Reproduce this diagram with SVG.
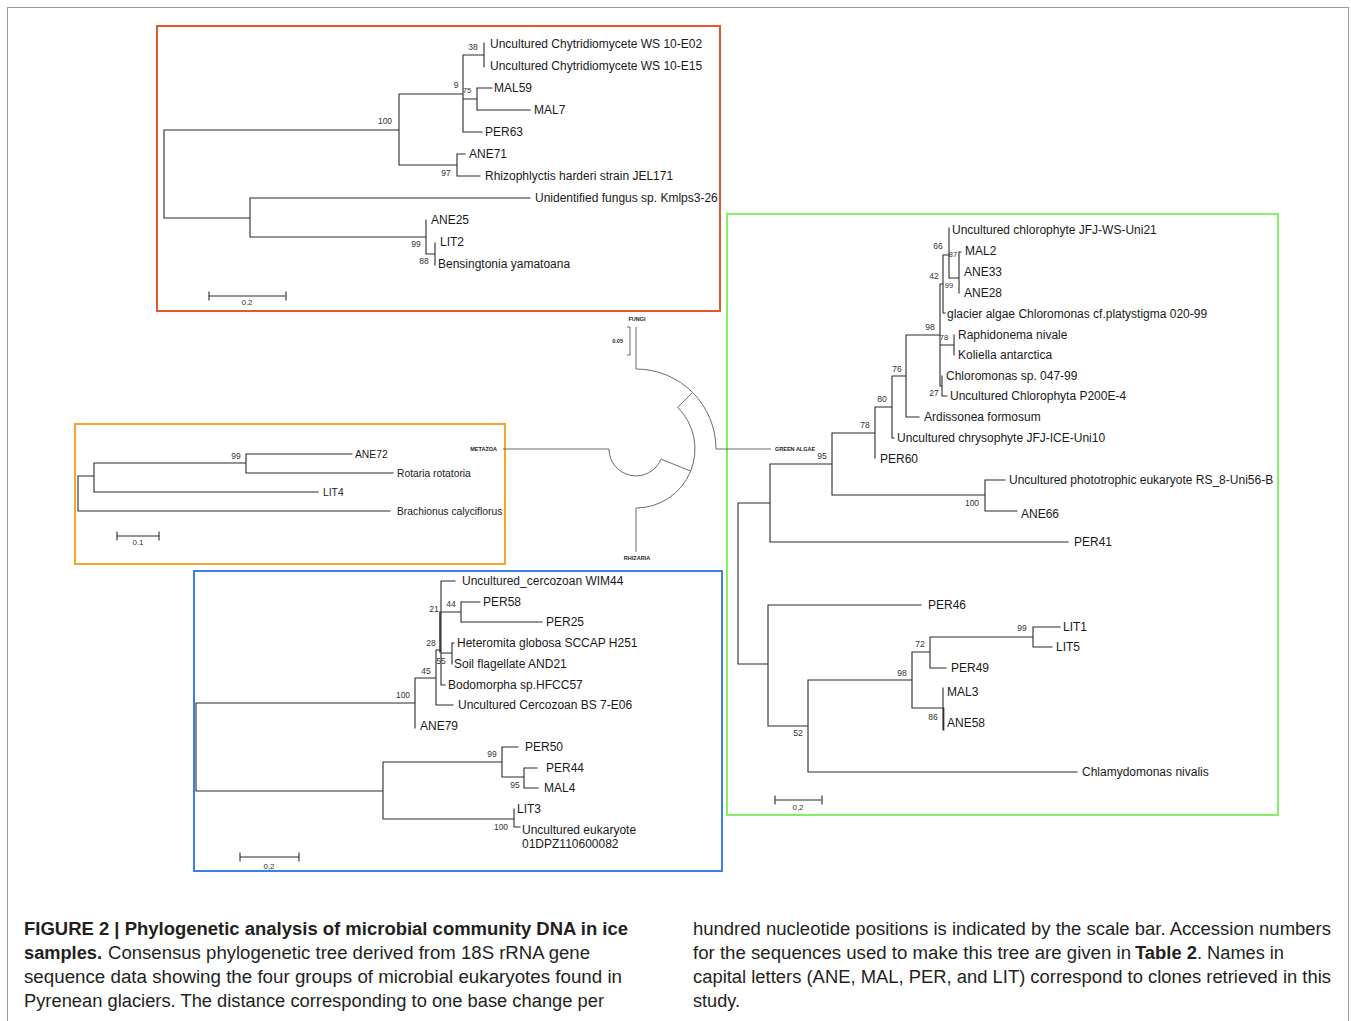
<svg xmlns="http://www.w3.org/2000/svg" width="1351" height="1021" viewBox="0 0 1351 1021">
<defs>
<style>
.bg{fill:#ffffff}
.frame{fill:none;stroke:#9a9a9a;stroke-width:1}
.box{fill:none;stroke-width:2}
.t{fill:none;stroke:#2b2b2b;stroke-width:1.1;stroke-linecap:square}
.r{fill:none;stroke:#5a5a5a;stroke-width:0.9}
.lab{font-family:"Liberation Sans",Arial,sans-serif;font-size:12px;fill:#1a1a1a}
.lab10{font-family:"Liberation Sans",Arial,sans-serif;font-size:10.3px;fill:#1a1a1a}
.bs{font-family:"Liberation Sans",Arial,sans-serif;font-size:8.5px;fill:#333;text-anchor:middle}
.sc{font-family:"Liberation Sans",Arial,sans-serif;font-size:8px;fill:#333;text-anchor:middle}
.grp{font-family:"Liberation Sans",Arial,sans-serif;font-size:5.5px;font-weight:bold;fill:#222}
.cap{font-family:"Liberation Sans",Arial,sans-serif;font-size:18px;fill:#231f20}
.capb{font-family:"Liberation Sans",Arial,sans-serif;font-size:18px;font-weight:bold;fill:#231f20}
</style>
</defs>
<rect class="bg" x="0" y="0" width="1351" height="1021"/>
<rect class="frame" x="7.5" y="7.5" width="1341" height="1030"/>

<!-- FUNGI panel -->
<g id="fungi">
<rect class="box" x="157" y="26" width="563" height="285" stroke="#e4572e"/>
<path class="t" d="M164,130V218 M164,130H399 M164,218H250 M399,94V165 M399,94H463 M399,165H457 M463,55V132 M463,55H484 M484,43V67 M463,99H477 M477,88V110 M477,88H492 M477,110H530 M463,132H482 M457,154V176 M457,154H465 M457,176H480 M250,198V237 M250,198H530 M250,237H426 M426,220V254 M426,254H435 M435,243V265"/>
<g class="lab">
<text x="490" y="48.3">Uncultured Chytridiomycete WS 10-E02</text>
<text x="490" y="70.3">Uncultured Chytridiomycete WS 10-E15</text>
<text x="494" y="92.3">MAL59</text>
<text x="534" y="114.3">MAL7</text>
<text x="485" y="136.3">PER63</text>
<text x="469" y="158.3">ANE71</text>
<text x="485" y="180.3">Rhizophlyctis harderi strain JEL171</text>
<text x="535" y="202.3">Unidentified fungus sp. Kmlps3-26</text>
<text x="431" y="224.3">ANE25</text>
<text x="440" y="246.3">LIT2</text>
<text x="438" y="268.3">Bensingtonia yamatoana</text>
</g>
<g class="bs">
<text x="473" y="50">38</text>
<text x="456" y="88">9</text>
<text x="467" y="93" font-size="7.5">75</text>
<text x="385" y="124">100</text>
<text x="446" y="176">97</text>
<text x="416" y="247">99</text>
<text x="424" y="264">88</text>
</g>
<path class="t" d="M209,296H286 M209,292V300 M286,292V300"/>
<text class="sc" x="247" y="305">0.2</text>
</g>

<!-- METAZOA panel -->
<g id="metazoa">
<rect class="box" x="75" y="424" width="430" height="140" stroke="#f6a52a"/>
<path class="t" d="M78,476V511 M78,476H94 M78,511H390 M94,463V492 M94,463H246 M94,492H318 M246,454V473 M246,454H352 M246,473H393"/>
<g class="lab10">
<text x="355" y="457.6">ANE72</text>
<text x="397" y="476.6">Rotaria rotatoria</text>
<text x="323" y="495.6">LIT4</text>
<text x="397" y="514.6">Brachionus calyciflorus</text>
</g>
<text class="bs" x="236" y="458.5" font-size="7.5">99</text>
<path class="t" d="M117,536H159 M117,532V540 M159,532V540"/>
<text class="sc" x="138" y="545" font-size="7">0.1</text>
</g>

<!-- RHIZARIA panel -->
<g id="rhizaria">
<rect class="box" x="194" y="571" width="528" height="300" stroke="#3f7fe2"/>
<path class="t" d="M196,703V791 M196,703H415 M196,791H383 M415,678V728 M415,678H436 M436,650V705 M436,705H453 M436,650H441 M441,581V685 M439.8,612V652 M441,581H455 M441,612H461 M461,602V622 M461,602H480 M461,622H542 M441,653H452 M452,643V664 M452,643H454 M441,685H445 M383,762V819 M383,762H502 M383,819H514 M502,747V777 M502,747H518 M502,777H524 M524,768V788 M524,768H537 M524,788H538 M514,809V827 M514,827H520"/>
<g class="lab">
<text x="462" y="585.3">Uncultured_cercozoan WIM44</text>
<text x="483" y="606.3">PER58</text>
<text x="546" y="626.3">PER25</text>
<text x="457" y="647.3">Heteromita globosa SCCAP H251</text>
<text x="454" y="668.3">Soil flagellate AND21</text>
<text x="448" y="689.3">Bodomorpha sp.HFCC57</text>
<text x="458" y="709.3">Uncultured Cercozoan BS 7-E06</text>
<text x="420" y="730.3">ANE79</text>
<text x="525" y="751.3">PER50</text>
<text x="546" y="772.3">PER44</text>
<text x="544" y="792.3">MAL4</text>
<text x="517" y="813.3">LIT3</text>
<text x="522" y="834.3">Uncultured eukaryote</text>
<text x="522" y="848.3">01DPZ110600082</text>
</g>
<g class="bs">
<text x="434" y="612">21</text>
<text x="451" y="607">44</text>
<text x="431" y="646">28</text>
<text x="441" y="664">55</text>
<text x="426" y="673.5">45</text>
<text x="403" y="698">100</text>
<text x="492" y="757">99</text>
<text x="515" y="788">95</text>
<text x="501" y="830">100</text>
</g>
<path class="t" d="M240,857H299 M240,853V861 M299,853V861"/>
<text class="sc" x="269" y="869">0,2</text>
</g>

<!-- GREEN ALGAE panel -->
<g id="green-algae">
<rect class="box" x="727" y="214" width="551" height="601" stroke="#86ef68"/>
<path class="t" d="M738,503V664 M738,503H770 M738,664H768 M770,464V542 M770,542H1068 M770,464H832 M832,433V495 M832,495H985 M985,480V511 M985,480H1005 M985,511H1017 M832,433H875 M875,407V458 M875,407H892 M892,376V438 M892,438H894 M892,376H906 M906,335V417 M906,417H919 M906,335H940 M940,284V386 M940,284H943 M943,255V313 M943,313H945 M943,255H949 M949,228V278 M949,278H959 M959,252V293 M959,252H961 M940,345H954 M954,335V355 M940,386H942 M942,376V396 M942,396H947 M768,605V726 M768,605H921 M768,726H808 M808,680V772 M808,772H1077 M808,680H912 M912,652V708 M912,652H930 M930,637V668 M930,668H946 M930,637H1033 M1033,627V647 M1033,627H1060 M1033,647H1052 M912,708H943 M943,688V730 M943.8,708V730"/>
<g class="lab">
<text x="952" y="234.3">Uncultured chlorophyte JFJ-WS-Uni21</text>
<text x="965" y="255.3">MAL2</text>
<text x="964" y="276.3">ANE33</text>
<text x="964" y="297.3">ANE28</text>
<text x="947" y="318.3">glacier algae Chloromonas cf.platystigma 020-99</text>
<text x="958" y="339.3">Raphidonema nivale</text>
<text x="958" y="359.3">Koliella antarctica</text>
<text x="946" y="380.3">Chloromonas sp. 047-99</text>
<text x="950" y="400.3">Uncultured Chlorophyta P200E-4</text>
<text x="924" y="421.3">Ardissonea formosum</text>
<text x="897" y="442.3">Uncultured chrysophyte JFJ-ICE-Uni10</text>
<text x="880" y="463.3">PER60</text>
<text x="1009" y="484.3">Uncultured phototrophic eukaryote RS_8-Uni56-B</text>
<text x="1021" y="518.3">ANE66</text>
<text x="1074" y="546.3">PER41</text>
<text x="928" y="609.3">PER46</text>
<text x="1063" y="631.3">LIT1</text>
<text x="1056" y="651.3">LIT5</text>
<text x="951" y="672.3">PER49</text>
<text x="947" y="696.3">MAL3</text>
<text x="947" y="727.3">ANE58</text>
<text x="1082" y="776.3">Chlamydomonas nivalis</text>
</g>
<g class="bs">
<text x="938" y="249">66</text>
<text x="953" y="257" font-size="7.5">87</text>
<text x="934" y="279">42</text>
<text x="949" y="288" font-size="7.5">99</text>
<text x="930" y="330">98</text>
<text x="944" y="340" font-size="7.5">78</text>
<text x="934" y="396">27</text>
<text x="897" y="372">76</text>
<text x="882" y="402">80</text>
<text x="865" y="428">78</text>
<text x="822" y="459">95</text>
<text x="972" y="506">100</text>
<text x="1022" y="631">99</text>
<text x="920" y="647">72</text>
<text x="902" y="676">98</text>
<text x="933" y="720">86</text>
<text x="798" y="736">52</text>
</g>
<path class="t" d="M775,800H822 M775,796V804 M822,796V804"/>
<text class="sc" x="798" y="810">0,2</text>
</g>

<!-- central radial tree connecting the four groups -->
<g id="connectors">
<path class="r" d="M636,327V369 A80,80 0 0 1 716,449 H771 M692.6,392.4L677.7,407.3 A59,59 0 0 1 636,508 V552 M690.7,471.1L661,459.1 A27,27 0 0 1 609,449 H503"/>
<path class="r" d="M627,327H630V355H627"/>
<text class="grp" x="623" y="342.5" font-size="3.5" font-weight="normal" text-anchor="end">0.05</text>
</g>
<g id="group-labels">
<text class="grp" x="637" y="321" text-anchor="middle">FUNGI</text>
<text class="grp" x="497" y="451" text-anchor="end">METAZOA</text>
<text class="grp" x="775" y="451">GREEN ALGAE</text>
<text class="grp" x="637" y="560" text-anchor="middle">RHIZARIA</text>
</g>

<!-- caption -->
<g id="caption">
<text class="capb" x="24" y="934.5" textLength="604" lengthAdjust="spacingAndGlyphs">FIGURE 2 | Phylogenetic analysis of microbial community DNA in ice</text>
<text class="capb" x="24" y="958.5" textLength="78" lengthAdjust="spacingAndGlyphs">samples.</text>
<text class="cap" x="108" y="958.5" textLength="482" lengthAdjust="spacingAndGlyphs">Consensus phylogenetic tree derived from 18S rRNA gene</text>
<text class="cap" x="24" y="982.5" textLength="598" lengthAdjust="spacingAndGlyphs">sequence data showing the four groups of microbial eukaryotes found in</text>
<text class="cap" x="24" y="1006.5" textLength="580" lengthAdjust="spacingAndGlyphs">Pyrenean glaciers. The distance corresponding to one base change per</text>
<text class="cap" x="693" y="934.5" textLength="638" lengthAdjust="spacingAndGlyphs">hundred nucleotide positions is indicated by the scale bar. Accession numbers</text>
<text class="cap" x="693" y="958.5" textLength="438" lengthAdjust="spacingAndGlyphs">for the sequences used to make this tree are given in</text>
<text class="capb" x="1135" y="958.5" textLength="62" lengthAdjust="spacingAndGlyphs">Table 2</text>
<text class="cap" x="1197" y="958.5" textLength="87" lengthAdjust="spacingAndGlyphs">. Names in</text>
<text class="cap" x="693" y="982.5" textLength="638" lengthAdjust="spacingAndGlyphs">capital letters (ANE, MAL, PER, and LIT) correspond to clones retrieved in this</text>
<text class="cap" x="693" y="1006.5" textLength="47" lengthAdjust="spacingAndGlyphs">study.</text>
</g>
</svg>
